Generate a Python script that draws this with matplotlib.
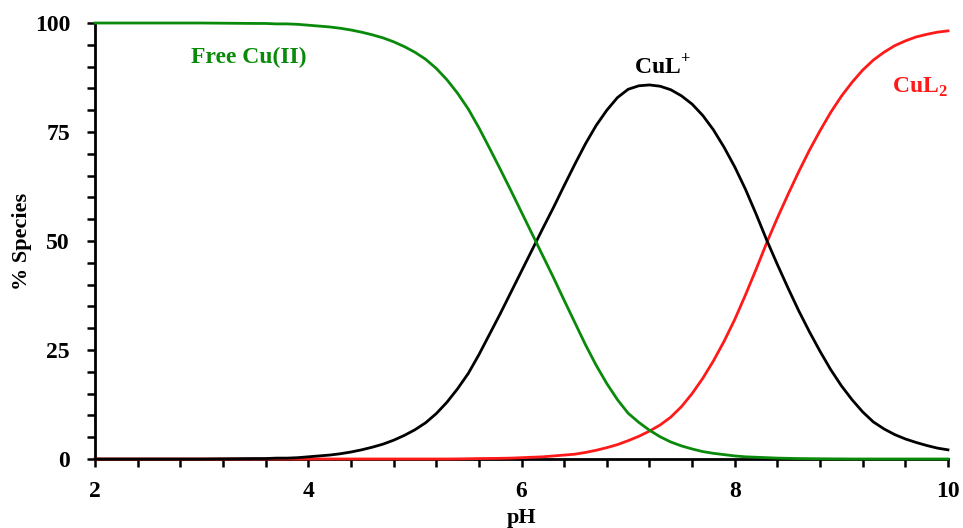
import numpy as np
import matplotlib.pyplot as plt
from matplotlib.ticker import MultipleLocator

plt.rcParams['font.family'] = ['Liberation Serif', 'DejaVu Serif']
plt.rcParams['font.weight'] = 'bold'
plt.rcParams['axes.labelweight'] = 'bold'
plt.rcParams['mathtext.fontset'] = 'custom'
plt.rcParams['mathtext.rm'] = 'Liberation Serif:bold'
plt.rcParams['mathtext.bf'] = 'Liberation Serif:bold'

# Species distribution (percent of total Cu)
ph = [2.0, 2.5, 3.0, 3.5, 3.6, 3.7, 3.8, 3.9,
      4.0, 4.1, 4.2, 4.3, 4.4, 4.5, 4.6, 4.7, 4.8, 4.9,
      5.0, 5.1, 5.2, 5.3, 5.4, 5.5, 5.6, 5.7, 5.8, 5.9,
      6.0, 6.1, 6.2, 6.3, 6.4, 6.5, 6.6, 6.7, 6.8, 6.9,
      7.0, 7.1, 7.2, 7.3, 7.4, 7.5, 7.6, 7.7, 7.8, 7.9,
      8.0, 8.1, 8.2, 8.3, 8.4, 8.5, 8.6, 8.7, 8.8, 8.9,
      9.0, 9.1, 9.2, 9.3, 9.4, 9.5, 9.6, 9.7, 9.8, 9.9, 10.0]

free_cu = [100, 100, 100, 99.9, 99.9, 99.8, 99.8, 99.7,
           99.5, 99.3, 99.1, 98.8, 98.4, 97.9, 97.3, 96.6, 95.7, 94.6,
           93.3, 91.7, 89.6, 87.0, 83.9, 80.3, 76.0, 71.3, 66.5, 61.6,
           56.6, 51.6, 46.6, 41.6, 36.4, 31.3, 26.2, 21.5, 17.3, 13.6,
           10.5, 8.4, 6.6, 5.1, 3.9, 3.0, 2.3, 1.7, 1.3, 1.0,
           0.7, 0.5, 0.4, 0.3, 0.2, 0.15, 0.1, 0.07, 0.05, 0.03,
           0.02, 0, 0, 0, 0, 0, 0, 0, 0, 0, 0]

cul = [0, 0, 0, 0.1, 0.1, 0.2, 0.2, 0.3,
       0.5, 0.7, 0.9, 1.2, 1.6, 2.1, 2.7, 3.4, 4.3, 5.4,
       6.7, 8.3, 10.4, 13.0, 16.1, 19.6, 23.9, 28.6, 33.3, 38.2,
       43.1, 48.0, 52.9, 57.7, 62.7, 67.6, 72.3, 76.5, 80.0, 82.9,
       84.8, 85.6, 85.8, 85.5, 84.7, 83.3, 81.4, 78.8, 75.5, 71.5,
       67.0, 61.9, 56.2, 50.2, 44.6, 39.2, 34.0, 29.2, 24.7, 20.5,
       16.8, 13.6, 10.8, 8.5, 6.9, 5.6, 4.6, 3.8, 3.1, 2.5, 2.1]

cul2 = [0, 0, 0, 0, 0, 0, 0, 0,
        0, 0, 0, 0, 0, 0, 0, 0, 0, 0,
        0, 0, 0, 0, 0.02, 0.05, 0.1, 0.12, 0.15, 0.2,
        0.3, 0.4, 0.5, 0.7, 0.9, 1.1, 1.5, 2.0, 2.6, 3.3,
        4.2, 5.2, 6.4, 7.8, 9.6, 12.0, 15.0, 18.5, 22.5, 27.0,
        32.0, 37.6, 43.5, 49.6, 55.3, 60.7, 65.9, 70.8, 75.3, 79.5,
        83.2, 86.4, 89.2, 91.5, 93.3, 94.8, 95.9, 96.8, 97.4, 97.9, 98.2]

fig = plt.figure(figsize=(9.63, 5.28), dpi=100)
ax = fig.add_axes([0.0987, 0.1307, 0.8857, 0.8257])

green = '#0a8a0a'
red = '#ff1a1a'
ax.plot(ph, cul2, color=red, lw=2, clip_on=False, zorder=3)
ax.plot(ph, cul, color='black', lw=2, clip_on=False, zorder=3)
ax.plot(ph, free_cu, color=green, lw=2, clip_on=False, zorder=4)

ax.text(3.44, 92.2, 'Free Cu(II)', color=green, fontsize=17, ha='center', va='center')
ax.text(7.32, 90.0, r'CuL$^{+}$', color='black', fontsize=17, ha='center', va='center')
ax.text(9.74, 85.3, r'CuL$_{2}$', color=red, fontsize=17, ha='center', va='center')

ax.set_xlim(2, 10)
ax.set_ylim(0, 100)
ax.xaxis.set_major_locator(MultipleLocator(2))
ax.xaxis.set_minor_locator(MultipleLocator(0.4))
ax.yaxis.set_major_locator(MultipleLocator(25))
ax.yaxis.set_minor_locator(MultipleLocator(5))

for side in ['top', 'right']:
    ax.spines[side].set_visible(False)
for side in ['left', 'bottom']:
    ax.spines[side].set_linewidth(2)

ax.tick_params(which='both', direction='out', width=1.8, length=6, labelsize=17)
ax.tick_params(axis='x', pad=10)
ax.tick_params(axis='y', pad=12)
ax.set_xlabel('pH', fontsize=16, labelpad=4)
ax.set_ylabel('% Species', fontsize=16, labelpad=2)

plt.savefig('out.png', dpi=100)
